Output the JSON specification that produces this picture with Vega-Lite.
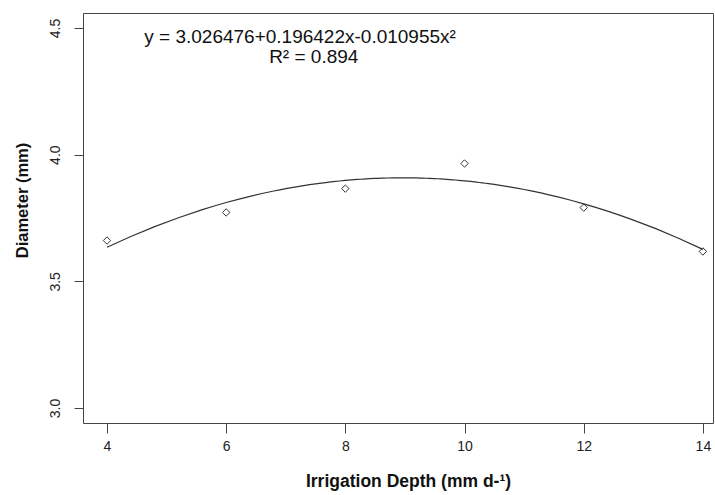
{
  "$schema": "https://vega.github.io/schema/vega-lite/v6.json",
  "width": 630,
  "height": 410,
  "autosize": {"type": "none"},
  "padding": {"left": 83, "top": 13, "right": 2, "bottom": 72},
  "background": "white",
  "config": {
    "view": {"stroke": "#444", "strokeWidth": 1},
    "font": "Liberation Sans",
    "axis": {"grid": false, "domain": false, "tickColor": "#444", "labelColor": "#222", "titleColor": "#111"}
  },
  "datasets": {
    "points": [
      {"depth": 4, "diameter": 3.661},
      {"depth": 6, "diameter": 3.772},
      {"depth": 8, "diameter": 3.866},
      {"depth": 10, "diameter": 3.965},
      {"depth": 12, "diameter": 3.791},
      {"depth": 14, "diameter": 3.618}
    ],
    "labels": [
      {"depth": 7.24, "diameter": 4.463, "label": "y = 3.026476+0.196422x-0.010955x²"},
      {"depth": 7.47, "diameter": 4.386, "label": "R² = 0.894"}
    ]
  },
  "encoding": {
    "x": {
      "field": "depth", "type": "quantitative",
      "scale": {"domain": [3.597, 14.17], "nice": false, "zero": false},
      "axis": {
        "values": [4, 6, 8, 10, 12, 14], "tickSize": 10, "labelPadding": 6, "labelFontSize": 14,
        "title": "Irrigation Depth (mm d-¹)", "titleFontSize": 17.5, "titleFontWeight": "bold",
        "titleX": 325, "titleY": 58, "titleBaseline": "middle", "titleAlign": "center"
      }
    },
    "y": {
      "field": "diameter", "type": "quantitative",
      "scale": {"domain": [2.941, 4.559], "nice": false, "zero": false},
      "axis": {
        "values": [3, 3.5, 4, 4.5], "format": ".1f", "tickSize": 9, "labelPadding": 12, "labelFontSize": 14,
        "labelAngle": -90, "labelAlign": "center", "labelBaseline": "bottom",
        "title": "Diameter (mm)", "titleFontSize": 16.5, "titleFontWeight": "bold",
        "titleX": -61, "titleY": 187, "titleBaseline": "middle", "titleAlign": "center", "titleAngle": -90
      }
    }
  },
  "layer": [
    {
      "data": {"name": "points"},
      "transform": [{"regression": "diameter", "on": "depth", "method": "poly", "order": 2}],
      "mark": {"type": "line", "color": "#333", "strokeWidth": 1.2}
    },
    {
      "data": {"name": "points"},
      "mark": {"type": "point", "shape": "diamond", "filled": false, "size": 55, "color": "#333", "strokeWidth": 1, "opacity": 1}
    },
    {
      "data": {"name": "labels"},
      "mark": {"type": "text", "fontSize": 19, "color": "#111", "baseline": "middle", "align": "center"},
      "encoding": {"text": {"field": "label"}}
    }
  ]
}
